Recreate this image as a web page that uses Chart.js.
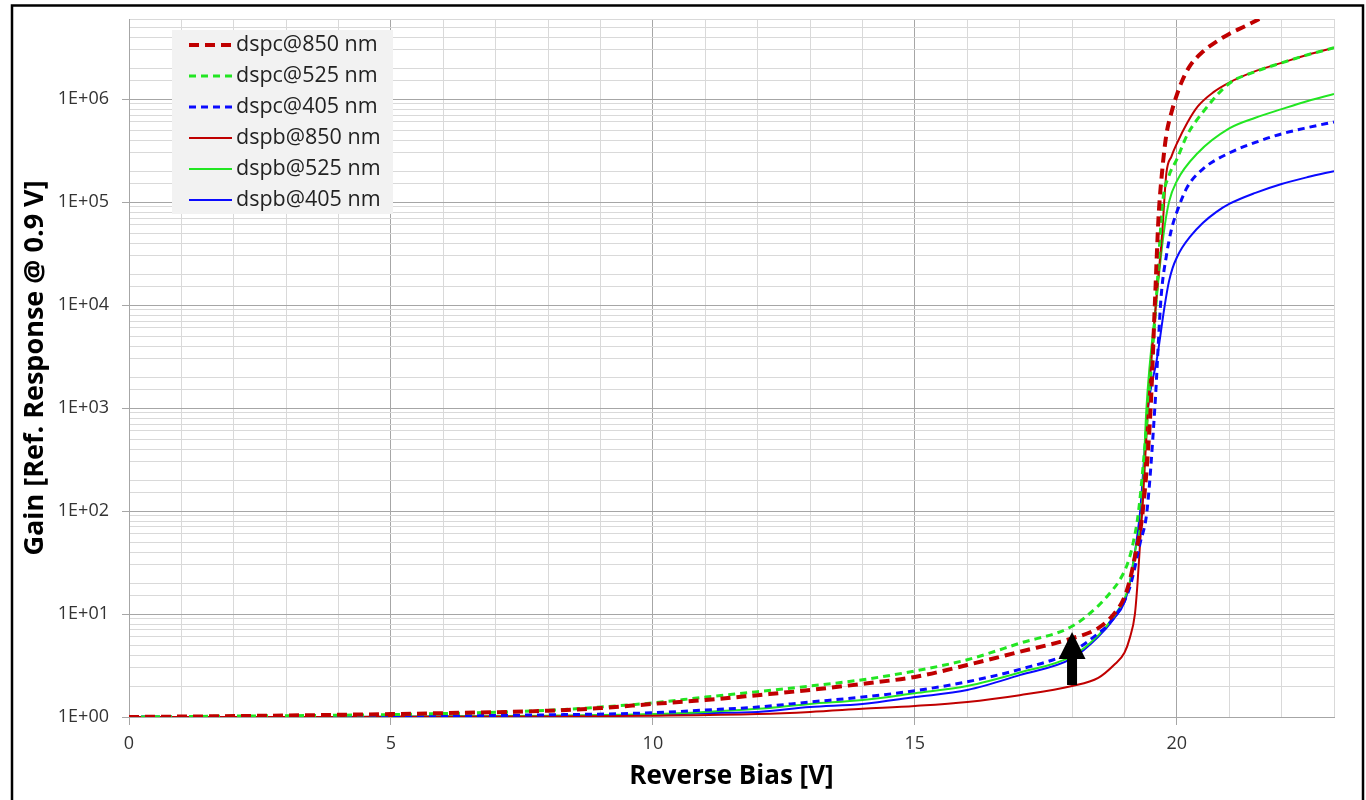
<!DOCTYPE html>
<html>
<head>
<meta charset="utf-8">
<script src="https://cdn.jsdelivr.net/npm/chart.js@4"></script>
<style>
  html, body { margin: 0; padding: 0; background: #fff; }
  canvas { display: block; }
</style>
</head>
<body>
<canvas id="gainChart" width="1366" height="800"></canvas>
<script>
// series names
const seriesNames = ["dspc@850 nm", "dspc@525 nm", "dspc@405 nm", "dspb@850 nm", "dspb@525 nm", "dspb@405 nm"];

// reverse bias [V] and gain
const dspc850V = [0, 2, 4, 6, 8, 9, 10, 11, 12, 13, 14, 15, 16, 17, 18, 18.5, 18.8, 19, 19.1, 19.2, 19.35, 19.5, 19.58, 19.65, 19.72, 19.8, 19.9, 20, 20.1, 20.25, 20.5, 20.75, 21, 21.3, 21.6];
const dspc850G = [1.0, 1.02, 1.05, 1.09, 1.15, 1.22, 1.34, 1.46, 1.63, 1.83, 2.1, 2.45, 3.2, 4.3, 5.8, 7.3, 10, 14.6, 21, 36, 100, 1000, 1e4, 7e4, 2e5, 4.5e5, 7.5e5, 1.1e6, 1.5e6, 2.1e6, 2.9e6, 3.6e6, 4.3e6, 5.1e6, 6.1e6];

const dspc525V = [0, 2, 4, 6, 8, 9, 10, 11, 12, 13, 14, 15, 16, 17, 18, 18.5, 18.7, 18.9, 19.05, 19.15, 19.27, 19.45, 19.6, 19.73, 19.85, 20, 20.2, 20.5, 21, 21.5, 22, 22.5, 23];
const dspc525G = [1.0, 1.02, 1.04, 1.08, 1.16, 1.25, 1.37, 1.56, 1.76, 2.0, 2.3, 2.8, 3.6, 5.2, 7.6, 12, 15.5, 21, 30, 45, 100, 1000, 1e4, 1e5, 1.8e5, 2.6e5, 4.5e5, 7.5e5, 1.42e6, 1.85e6, 2.25e6, 2.7e6, 3.15e6];

const dspc405V = [0, 4, 8, 10, 11, 12, 13, 14, 15, 16, 17, 18, 18.5, 18.72, 19.1, 19.3, 19.43, 19.58, 19.7, 19.8, 19.9, 20, 20.2, 20.5, 21, 21.5, 22, 22.5, 23];
const dspc405G = [1.0, 1.01, 1.05, 1.1, 1.17, 1.25, 1.4, 1.56, 1.8, 2.2, 2.9, 4.3, 6.5, 8.2, 18, 49, 100, 1000, 1.2e4, 3e4, 5.5e4, 8e4, 1.4e5, 2.1e5, 3e5, 3.8e5, 4.6e5, 5.3e5, 6e5];

const dspb850V = [0, 4, 8, 10, 12, 13, 14, 15, 16, 17, 18, 18.5, 18.8, 19, 19.1, 19.2, 19.25, 19.3, 19.35, 19.45, 19.6, 19.72, 19.8, 19.9, 20, 20.2, 20.4, 20.7, 21, 21.5, 22, 22.5, 23];
const dspb850G = [1.0, 1.0, 1.01, 1.03, 1.07, 1.12, 1.2, 1.28, 1.4, 1.63, 2.0, 2.4, 3.2, 4.2, 5.8, 10, 20, 50, 120, 1000, 1e4, 5e4, 1.9e5, 2.8e5, 3.7e5, 5.9e5, 8.5e5, 1.17e6, 1.45e6, 1.87e6, 2.25e6, 2.7e6, 3.15e6];

const dspb525V = [0, 4, 8, 10, 11, 12, 13, 14, 15, 16, 17, 18, 18.5, 18.8, 19, 19.1, 19.2, 19.33, 19.42, 19.6, 19.75, 19.85, 20, 20.4, 21, 21.5, 22, 22.5, 23];
const dspb525G = [1.0, 1.0, 1.03, 1.07, 1.12, 1.2, 1.34, 1.46, 1.7, 2.0, 2.7, 3.9, 6.2, 9.5, 14, 20, 40, 100, 1000, 1e4, 5e4, 1e5, 1.6e5, 3e5, 5.2e5, 6.6e5, 8e5, 9.6e5, 1.12e6];

const dspb405V = [0, 4, 8, 10, 11, 12, 13, 14, 15, 16, 17, 18, 18.5, 18.8, 19, 19.1, 19.2, 19.3, 19.45, 19.62, 19.77, 19.85, 19.92, 20, 20.1, 20.25, 20.5, 20.75, 21, 21.5, 22, 22.5, 23];
const dspb405G = [1.0, 1.0, 1.02, 1.05, 1.09, 1.12, 1.25, 1.34, 1.56, 1.83, 2.55, 3.7, 6, 9, 13, 20, 40, 100, 1000, 3000, 1e4, 1.7e4, 2.3e4, 2.9e4, 3.6e4, 4.6e4, 6.3e4, 8e4, 9.6e4, 1.23e5, 1.5e5, 1.75e5, 2e5];

// axis ranges
const xMin = 0, xMax = 23;
const yMin = 1, yMax = 6e6;

// arrow marker (V, gain)
const arrowX = 18, arrowFrom = 2.05, arrowTo = 6.7;

const RED = "#c00000", GREEN = "#22e622", BLUE = "#0a0aff";
const FONT = "'Open Sans', 'Noto Sans', sans-serif";

function pts(xs, ys) {
  return xs.map((x, i) => ({ x: x, y: ys[i] }));
}

const styles = [
  { color: RED, width: 4, dash: [10, 6] },
  { color: GREEN, width: 3, dash: [7, 5] },
  { color: BLUE, width: 3, dash: [7, 5] },
  { color: RED, width: 2, dash: [] },
  { color: GREEN, width: 2, dash: [] },
  { color: BLUE, width: 2, dash: [] }
];

const seriesData = [
  pts(dspc850V, dspc850G), pts(dspc525V, dspc525G), pts(dspc405V, dspc405G),
  pts(dspb850V, dspb850G), pts(dspb525V, dspb525G), pts(dspb405V, dspb405G)
];

const datasets = seriesData.map((d, i) => ({
  label: seriesNames[i],
  data: d,
  showLine: true,
  borderColor: styles[i].color,
  backgroundColor: styles[i].color,
  borderWidth: styles[i].width,
  borderDash: styles[i].dash,
  pointRadius: 0,
  cubicInterpolationMode: "monotone",
  fill: false
}));

function isDecade(v) {
  const l = Math.log10(v);
  return Math.abs(l - Math.round(l)) < 1e-9;
}

// legend box + arrow + outer frame
const extras = {
  id: "extras",
  afterDraw(chart) {
    const ctx = chart.ctx;
    const xs = chart.scales.x, ys = chart.scales.y;

    // arrow
    const ax = xs.getPixelForValue(arrowX);
    const tip = ys.getPixelForValue(arrowTo);
    const base = ys.getPixelForValue(arrowFrom);
    const headLen = 27, headW = 27, bodyW = 10;
    ctx.save();
    ctx.fillStyle = "#000";
    ctx.beginPath();
    ctx.moveTo(ax, tip);
    ctx.lineTo(ax + headW / 2, tip + headLen);
    ctx.lineTo(ax + bodyW / 2, tip + headLen);
    ctx.lineTo(ax + bodyW / 2, base);
    ctx.lineTo(ax - bodyW / 2, base);
    ctx.lineTo(ax - bodyW / 2, tip + headLen);
    ctx.lineTo(ax - headW / 2, tip + headLen);
    ctx.closePath();
    ctx.fill();
    ctx.restore();

    // legend
    ctx.save();
    ctx.fillStyle = "#f2f2f2";
    ctx.fillRect(172, 30, 221, 184);
    ctx.font = "21.5px " + FONT;
    ctx.textBaseline = "middle";
    seriesNames.forEach((name, i) => {
      const y = 45 + i * 31;
      ctx.strokeStyle = styles[i].color;
      ctx.lineWidth = styles[i].width;
      ctx.setLineDash(styles[i].dash);
      ctx.beginPath();
      ctx.moveTo(189, y);
      ctx.lineTo(232, y);
      ctx.stroke();
      ctx.setLineDash([]);
      ctx.fillStyle = "#222";
      ctx.fillText(name, 236, y);
    });
    ctx.restore();

    // frame
    ctx.save();
    ctx.strokeStyle = "#000";
    ctx.lineWidth = 2.5;
    ctx.strokeRect(12, 5.5, 1351, 800);
    ctx.restore();
  }
};

const whiteBg = {
  id: "whiteBg",
  beforeDraw(chart) {
    const ctx = chart.ctx;
    ctx.save();
    ctx.fillStyle = "#fff";
    ctx.fillRect(0, 0, chart.width, chart.height);
    ctx.restore();
  }
};

new Chart(document.getElementById("gainChart"), {
  type: "scatter",
  data: { datasets: datasets },
  options: {
    responsive: false,
    animation: false,
    layout: { padding: { left: 14, top: 19, right: 32, bottom: 4 } },
    plugins: {
      legend: { display: false },
      tooltip: { enabled: false }
    },
    scales: {
      x: {
        type: "linear",
        min: xMin,
        max: xMax,
        afterFit(scale) { scale.height = 79; scale.paddingLeft = 0; scale.paddingRight = 0; },
        ticks: {
          stepSize: 1,
          autoSkip: false,
          maxRotation: 0,
          padding: 8,
          color: "#333",
          font: { family: FONT, size: 18 },
          callback: v => (v % 5 === 0 ? String(v) : "")
        },
        grid: {
          color: c => (c.tick && c.tick.value % 5 === 0 ? "#a6a6a6" : "#d9d9d9"),
          tickColor: c => (c.tick && c.tick.value % 5 === 0 ? "#a6a6a6" : "rgba(0,0,0,0)"),
          tickLength: 8,
          lineWidth: 1
        },
        border: { color: "#a6a6a6" },
        title: {
          display: true,
          text: "Reverse Bias [V]",
          color: "#000",
          font: { family: FONT, size: 26, weight: "bold" },
          padding: { top: 4, bottom: 4 }
        }
      },
      y: {
        type: "logarithmic",
        min: yMin,
        max: yMax,
        afterFit(scale) { scale.width = 115; scale.paddingTop = 0; scale.paddingBottom = 0; },
        ticks: {
          autoSkip: false,
          padding: 13,
          color: "#333",
          font: { family: FONT, size: 18 },
          callback: v => {
            if (!isDecade(v)) return "";
            const e = Math.round(Math.log10(v));
            return "1E+" + String(e).padStart(2, "0");
          }
        },
        grid: {
          color: c => (c.tick && isDecade(c.tick.value) ? "#a6a6a6" : "#d9d9d9"),
          tickColor: c => (c.tick && isDecade(c.tick.value) ? "#a6a6a6" : "rgba(0,0,0,0)"),
          tickLength: 7,
          lineWidth: 1
        },
        border: { color: "#a6a6a6" },
        title: {
          display: true,
          text: "Gain [Ref. Response @ 0.9 V]",
          color: "#000",
          font: { family: FONT, size: 27, weight: "bold" },
          padding: { top: 5, bottom: 4 }
        }
      }
    }
  },
  plugins: [whiteBg, extras]
});
</script>
</body>
</html>
